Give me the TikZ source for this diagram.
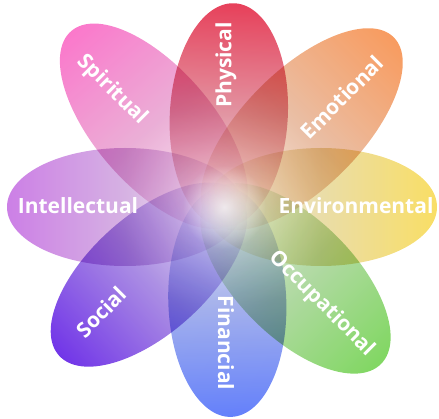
\documentclass[tikz,border=0pt]{standalone}
\usepackage{fontspec}
\usetikzlibrary{fadings}
\setmainfont{Open Sans}
\definecolor{physcol}{HTML}{E3213F}
\definecolor{emocol}{HTML}{F78B45}
\definecolor{envcol}{HTML}{F8D84C}
\definecolor{occcol}{HTML}{6CD148}
\definecolor{fincol}{HTML}{4A6BFA}
\definecolor{soccol}{HTML}{5A14E4}
\definecolor{intcol}{HTML}{C46AE2}
\definecolor{spicol}{HTML}{FA62C3}
\definecolor{midgray}{HTML}{D8D6DA}
\tikzfading[name=glowfade, inner color=transparent!0, outer color=transparent!100]
\tikzset{
  petalstyle/.style={blend mode=multiply, fill opacity=0.86},
  label/.style={font=\fontsize{21}{25}\selectfont\bfseries, text=white, inner sep=0pt}
}
% #1 angle, #2 ellipse centre distance, #3 semi-major, #4 semi-minor, #5 colour
\newcommand\flowerpetal[5]{%
  \begin{scope}[transform canvas={shift={(224,211)},rotate=#1}]
    \shade[petalstyle, left color=white, right color=#5, middle color=#5!45!midgray]
      (#2,0) ellipse [x radius=#3, y radius=#4];
  \end{scope}}
\begin{document}
\begin{tikzpicture}[x=1pt,y=1pt]
\useasboundingbox (0,0) rectangle (439,418);
\flowerpetal{87}{92}{112}{59}{physcol}
\flowerpetal{45}{110}{130}{59}{emocol}
\flowerpetal{0}{97}{116}{59}{envcol}
\flowerpetal{-45}{101}{121}{59}{occcol}
\flowerpetal{-88}{95}{115}{59}{fincol}
\flowerpetal{222}{101}{121}{59}{soccol}
\flowerpetal{180}{99}{118}{59}{intcol}
\flowerpetal{131}{107}{126}{59}{spicol}
\fill[white, fill opacity=0.75, path fading=glowfade] (224,211) circle (42);
\node[label, rotate=-45] (spiritual) at (112,328) {Spiritual};
\node[label, rotate=90] (physical) at (226,353) {Physical};
\node[label, rotate=45] (emotional) at (342,321) {Emotional};
\node[label] (environmental) at (356,212) {Environmental};
\node[label, rotate=-45] (occupational) at (322,114) {Occupational};
\node[label, rotate=-90] (financial) at (226,75) {Financial};
\node[label, rotate=45] (social) at (101,106) {Social};
\node[label] (intellectual) at (78,212) {Intellectual};
\end{tikzpicture}
\end{document}
